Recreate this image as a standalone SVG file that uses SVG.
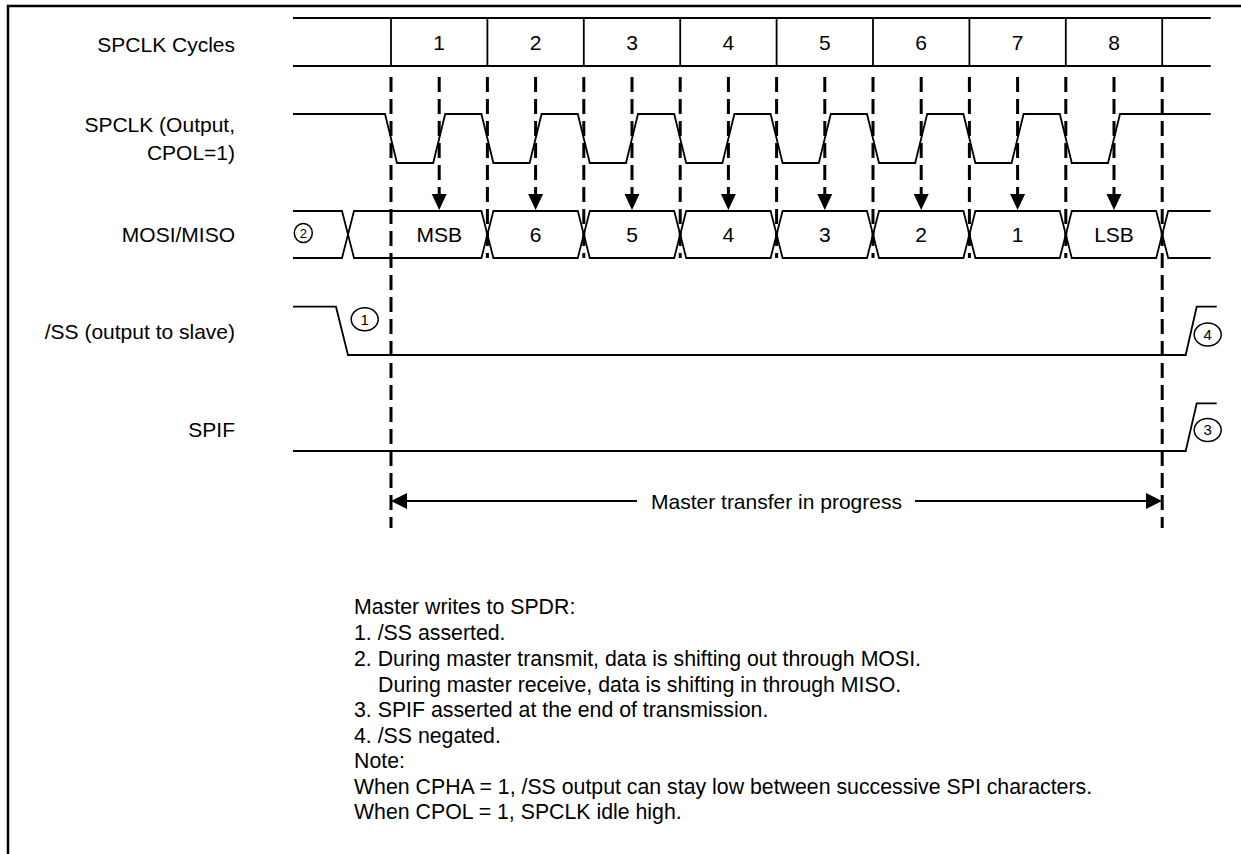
<svg xmlns="http://www.w3.org/2000/svg" width="1241" height="854" viewBox="0 0 1241 854">
<style>
text{font-family:"Liberation Sans",Arial,sans-serif;font-size:21px;fill:#000}
.lbl{text-anchor:end}
.c{text-anchor:middle}
.w{fill:none;stroke:#000;stroke-width:1.8;stroke-linejoin:miter}
.o{fill:none;stroke:#000;stroke-width:1.5}
.d{fill:none;stroke:#000;stroke-width:3;stroke-dasharray:15 7}
.ah{fill:#000;stroke:none}
.num{font-size:15px;text-anchor:middle}
.nt{font-size:21.3px}
</style>
<rect width="1241" height="854" fill="#fff"/>
<g id="frame"><path d="M8,854 V6 H1241" fill="none" stroke="#000" stroke-width="2.5"/></g>

<g id="labels">
<text class="lbl" x="235" y="52">SPCLK Cycles</text>
<text class="lbl" x="235" y="132">SPCLK (Output,</text>
<text class="lbl" x="235" y="160">CPOL=1)</text>
<text class="lbl" x="235" y="242">MOSI/MISO</text>
<text class="lbl" x="235" y="339">/SS (output to slave)</text>
<text class="lbl" x="235" y="437">SPIF</text>
</g>

<g id="cycles">
<path class="w" d="M293,18 H1210.7 M293,66 H1210.7 M391,18 V66 M487.4,18 V66 M583.8,18 V66 M680.2,18 V66 M776.6,18 V66 M873,18 V66 M969.4,18 V66 M1065.8,18 V66 M1162.2,18 V66"/>
<text class="c" x="439.2" y="50">1</text>
<text class="c" x="535.6" y="50">2</text>
<text class="c" x="632" y="50">3</text>
<text class="c" x="728.4" y="50">4</text>
<text class="c" x="824.8" y="50">5</text>
<text class="c" x="921.2" y="50">6</text>
<text class="c" x="1017.6" y="50">7</text>
<text class="c" x="1114" y="50">8</text>
</g>

<g id="spclk">
<path class="w" d="M293,114 L385,114 L397,163 L433.2,163 L445.2,114 L481.4,114 L493.4,163 L529.6,163 L541.6,114 L577.8,114 L589.8,163 L626,163 L638,114 L674.2,114 L686.2,163 L722.4,163 L734.4,114 L770.6,114 L782.6,163 L818.8,163 L830.8,114 L867,114 L879,163 L915.2,163 L927.2,114 L963.4,114 L975.4,163 L1011.6,163 L1023.6,114 L1059.8,114 L1071.8,163 L1108,163 L1120,114 L1210.7,114"/>
</g>

<g id="mosi">
<path class="w" d="M293,211 H342 L348,234.5 L342,258 H293"/>
<path class="w" d="M348,234.5 L354,211 H481.4 L487.4,234.5 L481.4,258 H354 Z"/>
<path class="w" d="M487.4,234.5 L493.4,211 H577.8 L583.8,234.5 L577.8,258 H493.4 Z"/>
<path class="w" d="M583.8,234.5 L589.8,211 H674.2 L680.2,234.5 L674.2,258 H589.8 Z"/>
<path class="w" d="M680.2,234.5 L686.2,211 H770.6 L776.6,234.5 L770.6,258 H686.2 Z"/>
<path class="w" d="M776.6,234.5 L782.6,211 H867 L873,234.5 L867,258 H782.6 Z"/>
<path class="w" d="M873,234.5 L879,211 H963.4 L969.4,234.5 L963.4,258 H879 Z"/>
<path class="w" d="M969.4,234.5 L975.4,211 H1059.8 L1065.8,234.5 L1059.8,258 H975.4 Z"/>
<path class="w" d="M1065.8,234.5 L1071.8,211 H1156.2 L1162.2,234.5 L1156.2,258 H1071.8 Z"/>
<path class="w" d="M1210.7,211 H1168.2 L1162.2,234.5 L1168.2,258 H1210.7"/>
<text class="c" x="439.2" y="242">MSB</text>
<text class="c" x="535.6" y="242">6</text>
<text class="c" x="632" y="242">5</text>
<text class="c" x="728.4" y="242">4</text>
<text class="c" x="824.8" y="242">3</text>
<text class="c" x="921.2" y="242">2</text>
<text class="c" x="1017.6" y="242">1</text>
<text class="c" x="1114" y="242">LSB</text>
</g>
<g id="mark2">
<ellipse class="o" cx="303.3" cy="233" rx="9" ry="9.6"/>
<text class="num" x="303.3" y="237.6" style="font-size:13px">2</text>
</g>

<g id="ss">
<path class="w" d="M293,306.7 H336 L348,355 H1185.7 L1196.7,306.7 H1216.7"/>
</g>
<g id="mark1">
<ellipse class="o" cx="364.7" cy="319.2" rx="13.5" ry="11.5"/>
<text class="num" x="364.7" y="324.6">1</text>
</g>
<g id="mark4">
<ellipse class="o" cx="1207.7" cy="334.5" rx="13.5" ry="11.5"/>
<text class="num" x="1207.7" y="339.9">4</text>
</g>

<g id="spif">
<path class="w" d="M293,451 H1185.7 L1196.7,403.3 H1216.7"/>
</g>
<g id="mark3">
<ellipse class="o" cx="1207.7" cy="430" rx="13.5" ry="11.5"/>
<text class="num" x="1207.7" y="435.4">3</text>
</g>

<g id="connectors">
<path class="d" d="M391,77 V528 M1162.2,77 V528"/>
<path class="d" d="M487.4,77 V258 M583.8,77 V258 M680.2,77 V258 M776.6,77 V258 M873,77 V258 M969.4,77 V258 M1065.8,77 V258"/>
<path class="d" d="M439.2,77 V195 M535.6,77 V195 M632,77 V195 M728.4,77 V195 M824.8,77 V195 M921.2,77 V195 M1017.6,77 V195 M1114,77 V195"/>
<path class="ah" d="M431.7,194 H446.7 L439.2,210 Z M528.1,194 H543.1 L535.6,210 Z M624.5,194 H639.5 L632,210 Z M720.9,194 H735.9 L728.4,210 Z M817.3,194 H832.3 L824.8,210 Z M913.7,194 H928.7 L921.2,210 Z M1010.1,194 H1025.1 L1017.6,210 Z M1106.5,194 H1121.5 L1114,210 Z"/>
<path class="w" d="M405,501 H637 M915,501 H1148"/>
<path class="ah" d="M391,501 L407,493 V509 Z M1162,501 L1146,493 V509 Z"/>
<text class="c" x="776.5" y="508.5">Master transfer in progress</text>
</g>

<g id="notes">
<text class="nt" x="354" y="614">Master writes to SPDR:</text>
<text class="nt" x="354" y="640">1. /SS asserted.</text>
<text class="nt" x="354" y="666">2. During master transmit, data is shifting out through MOSI.</text>
<text class="nt" x="378" y="691.5">During master receive, data is shifting in through MISO.</text>
<text class="nt" x="354" y="717">3. SPIF asserted at the end of transmission.</text>
<text class="nt" x="354" y="742.5">4. /SS negated.</text>
<text class="nt" x="354" y="768">Note:</text>
<text class="nt" x="354" y="793.5">When CPHA = 1, /SS output can stay low between successive SPI characters.</text>
<text class="nt" x="354" y="819">When CPOL = 1, SPCLK idle high.</text>
</g>
</svg>
